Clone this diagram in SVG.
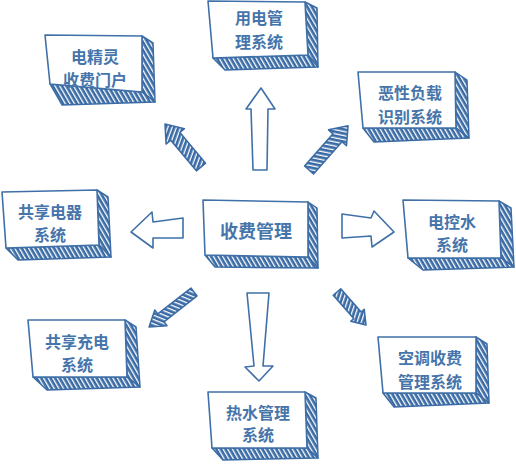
<svg xmlns="http://www.w3.org/2000/svg" width="516" height="464" viewBox="0 0 516 464">
<defs>
<pattern id="hatch" patternUnits="userSpaceOnUse" width="4" height="4" patternTransform="rotate(-30)">
<rect width="4" height="4" fill="#3a6ba5"/>
<rect width="1.3" height="4" fill="#ffffff"/>
</pattern>
<style>
.front{fill:#ffffff;stroke:#3f70a8;stroke-width:1.6;stroke-linejoin:round}
.shade{fill:url(#hatch);stroke:#3a6ba5;stroke-width:1.5;stroke-linejoin:round}
.out{fill:#ffffff;stroke:#3f70a8;stroke-width:1.6;stroke-linejoin:round}
.t{font-family:"Noto Sans CJK SC","Noto Sans",sans-serif;font-weight:700;font-size:16px;fill:#4675ab;text-anchor:middle}
.tc{font-size:18px}
</style>
</defs>
<rect width="516" height="464" fill="#ffffff"/>

<g id="connectors">
<polygon class="out" points="253,170 251,109 246,109 261,88 275,109 268,109 267,170"/>
<polygon class="out" points="247,293 269,293 263,366 273,366 259,381 245,367 254,366"/>
<polygon class="out" points="183,218 153,222 152,212 131,232 153,248 153,238 183,238"/>
<polygon class="out" points="342,214 371,218 374,211 394,232 372,247 371,236 342,238"/>
<polygon class="shade" transform="translate(201,167) rotate(-130)" points="0,-6 40,-6 40,-12 56,0 40,12 40,6 0,6"/>
<polygon class="shade" transform="translate(309,170) rotate(-48.5)" points="0,-6 43,-6 43,-12 59,0 43,12 43,6 0,6"/>
<polygon class="shade" transform="translate(194,292) rotate(142)" points="0,-5 42,-5 42,-10 57,0 42,10 42,5 0,5"/>
<polygon class="shade" transform="translate(337,292) rotate(48.7)" points="0,-5 31,-5 31,-9 44,0 31,9 31,5 0,5"/>
</g>

<g id="n1">
<polygon class="shade" points="142,36 153,43 155,102 142,92"/>
<polygon class="shade" points="50,84 142,92 155,102 62,105"/>
<polygon class="front" points="45,35 142,36 142,92 50,84"/>
<text class="t" x="95" y="63">电精灵</text>
<text class="t" x="95" y="86">收费门户</text>
</g>

<g id="n2">
<polygon class="shade" points="305,2 317,8 318,67 308,55"/>
<polygon class="shade" points="213,58 308,55 318,67 225,70"/>
<polygon class="front" points="208,1 305,2 308,55 213,58"/>
<text class="t" x="259" y="24">用电管</text>
<text class="t" x="259" y="48">理系统</text>
</g>

<g id="n3">
<polygon class="shade" points="455,72 467,80 469,138 456,128"/>
<polygon class="shade" points="363,128 456,128 469,138 374,142"/>
<polygon class="front" points="358,72 455,72 456,128 363,128"/>
<text class="t" x="410" y="99">恶性负载</text>
<text class="t" x="410" y="123">识别系统</text>
</g>

<g id="n4">
<polygon class="shade" points="97,190 108,197 111,257 99,245"/>
<polygon class="shade" points="6,248 99,245 111,257 18,260"/>
<polygon class="front" points="2,192 97,190 99,245 6,248"/>
<text class="t" x="50" y="218">共享电器</text>
<text class="t" x="50" y="241">系统</text>
</g>

<g id="n5">
<polygon class="shade" points="308,202 317,208 318,268 308,257"/>
<polygon class="shade" points="205,255 308,257 318,268 215,267"/>
<polygon class="front" points="203,200 308,202 308,257 205,255"/>
<text class="t tc" x="256" y="238">收费管理</text>
</g>

<g id="n6">
<polygon class="shade" points="499,201 511,208 514,267 501,258"/>
<polygon class="shade" points="408,258 501,258 514,267 423,270"/>
<polygon class="front" points="403,200 499,201 501,258 408,258"/>
<text class="t" x="452" y="228">电控水</text>
<text class="t" x="452" y="251">系统</text>
</g>

<g id="n7">
<polygon class="shade" points="125,320 136,327 140,387 127,377"/>
<polygon class="shade" points="33,377 127,377 140,387 47,390"/>
<polygon class="front" points="28,320 125,320 127,377 33,377"/>
<text class="t" x="77" y="348">共享充电</text>
<text class="t" x="77" y="371">系统</text>
</g>

<g id="n8">
<polygon class="shade" points="305,392 316,398 318,458 307,448"/>
<polygon class="shade" points="212,448 307,448 318,458 223,460"/>
<polygon class="front" points="208,392 305,392 307,448 212,448"/>
<text class="t" x="258" y="419">热水管理</text>
<text class="t" x="258" y="441">系统</text>
</g>

<g id="n9">
<polygon class="shade" points="476,337 487,344 489,403 476,393"/>
<polygon class="shade" points="383,393 476,393 489,403 394,407"/>
<polygon class="front" points="378,337 476,337 476,393 383,393"/>
<text class="t" x="430" y="364">空调收费</text>
<text class="t" x="430" y="388">管理系统</text>
</g>
</svg>
